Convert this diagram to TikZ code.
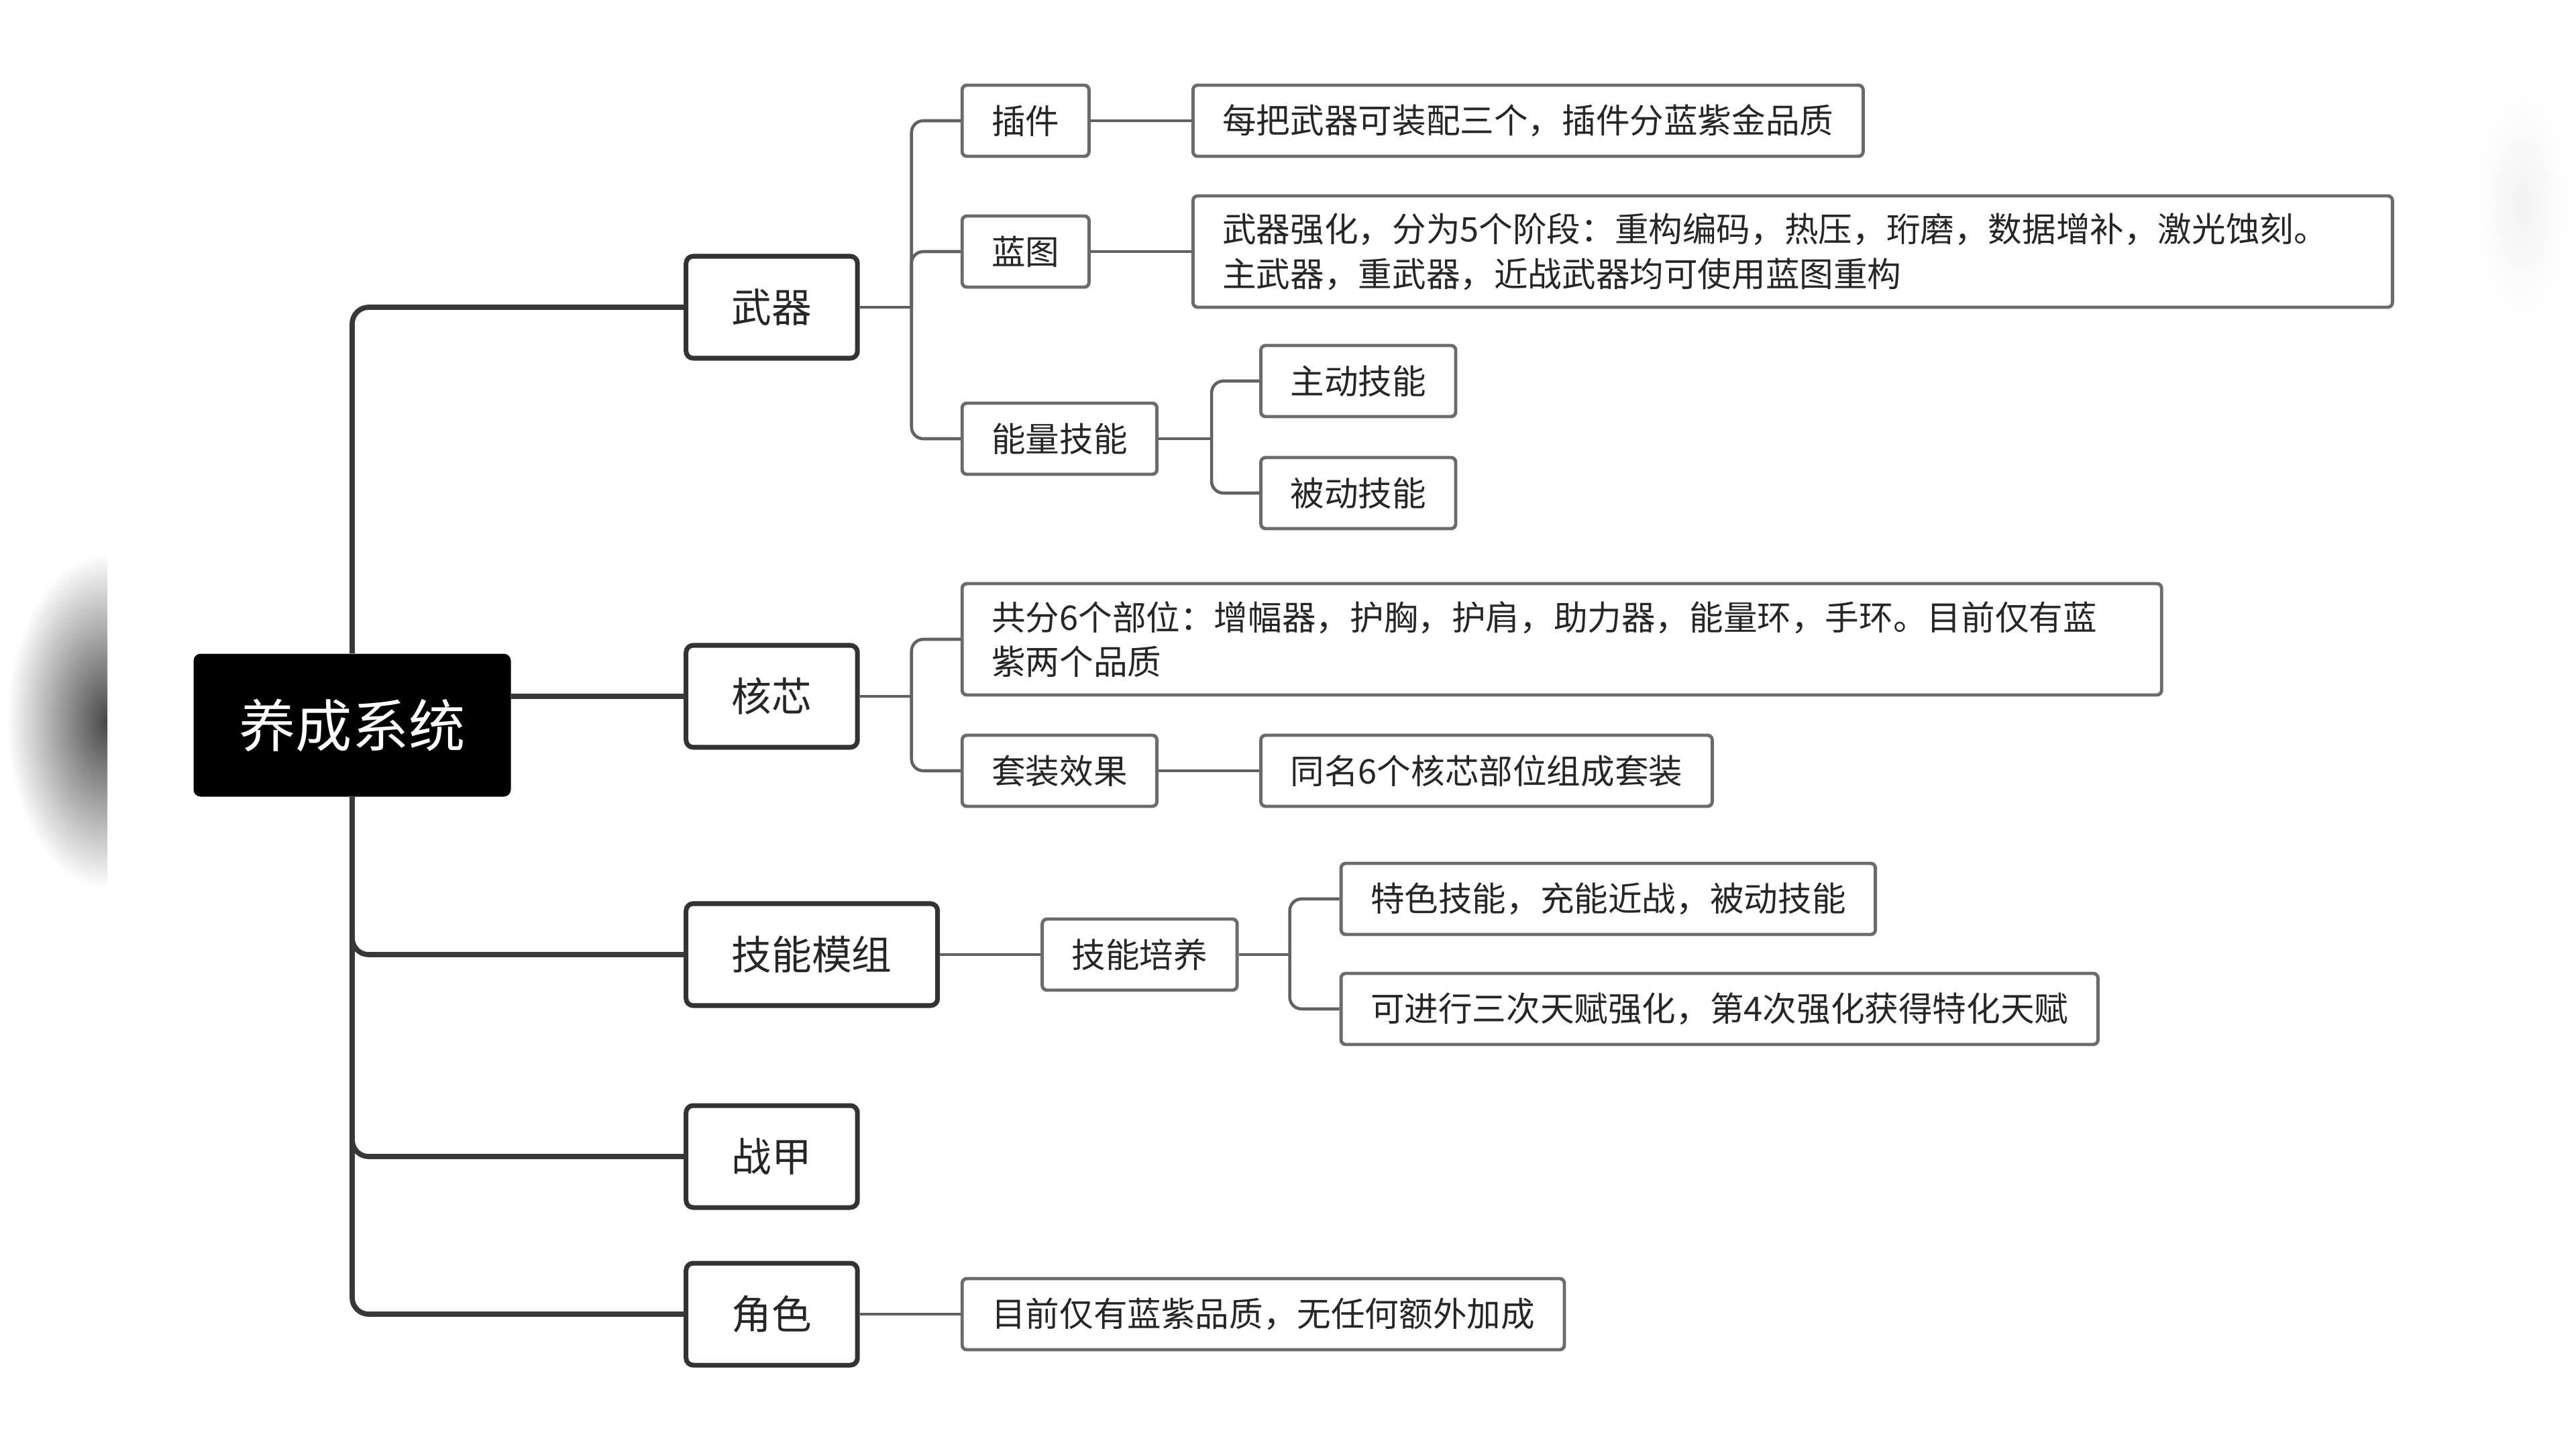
\documentclass[tikz,border=0pt]{standalone}
\usepackage{fontspec}
\setmainfont{Noto Sans CJK SC}
\usepackage{tikz}
\usetikzlibrary{positioning}
\tikzset{trunk/.style={draw, line width=2.2pt, black!78, rounded corners=7pt}}
\tikzset{twig/.style={draw, line width=1.3pt, black!62, rounded corners=5pt}}

\begin{document}
\begin{tikzpicture}[node distance = 1.5cm, auto]
\tikzstyle{root} = [rectangle, rounded corners=3pt, fill=black, text=white, minimum width=4.73cm, minimum height=2.13cm, font=\fontsize{24}{28}\selectfont]
\tikzstyle{major} = [rectangle, rounded corners=3pt, draw=black!80, line width=2pt, fill=white, inner xsep=0.68cm, minimum height=1.52cm, font=\fontsize{17}{20}\selectfont, text=black!85]
\tikzstyle{minor} = [rectangle, rounded corners=2pt, draw=black!58, line width=1.4pt, fill=white, inner xsep=0.44cm, minimum height=1.06cm, font=\fontsize{14.4}{19}\selectfont, text=black!85]
\tikzstyle{note} = [minor, text width=17cm, align=left, minimum height=1.66cm]

\useasboundingbox (0,0) rectangle (38.4,-21.6);

% video edge shadows
\begin{scope}
\clip (0,-8.0) rectangle (1.6,-13.4);
\shade[inner color=black!72, outer color=white] (1.6,-10.75) ellipse (1.5cm and 2.5cm);
\end{scope}
\begin{scope}
\clip (36.8,-1.2) rectangle (38.4,-4.9);
\shade[inner color=black!5, outer color=white] (37.6,-3.05) ellipse (0.7cm and 1.7cm);
\end{scope}

\node [root] (system) at (5.25,-10.81) {养成系统};

\node [major, right=2.57cm of system, yshift=6.23cm] (wuqi) {武器};
\node [major, right=2.57cm of system, yshift=0.43cm] (hexin) {核芯};
\node [major, right=2.57cm of system, yshift=-3.42cm] (mozu) {技能模组};
\node [major, right=2.57cm of system, yshift=-6.43cm] (zhanjia) {战甲};
\node [major, right=2.57cm of system, yshift=-8.78cm] (juese) {角色};

% 武器
\node [minor, right=of wuqi, yshift=2.78cm] (chajian) {插件};
\node [minor, right=of wuqi, yshift=0.83cm] (lantu) {蓝图};
\node [minor, right=of wuqi, yshift=-1.96cm] (nengliang) {能量技能};
\node [minor, right=of chajian] (chajiandesc) {每把武器可装配三个，插件分蓝紫金品质};
\node [note, right=of lantu] (lantudesc) {武器强化，分为5个阶段：重构编码，热压，珩磨，数据增补，激光蚀刻。\\主武器，重武器，近战武器均可使用蓝图重构};
\node [minor, right=of nengliang, yshift=0.86cm] (zhudong) {主动技能};
\node [minor, right=of nengliang, yshift=-0.81cm] (beidong) {被动技能};

% 核芯
\node [note, right=of hexin, yshift=0.85cm] (buwei) {共分6个部位：增幅器，护胸，护肩，助力器，能量环，手环。目前仅有蓝\\紫两个品质};
\node [minor, right=of hexin, yshift=-1.11cm] (taozhuang) {套装效果};
\node [minor, right=of taozhuang] (taozhuangdesc) {同名6个核芯部位组成套装};

% 技能模组
\node [minor, right=of mozu] (peiyang) {技能培养};
\node [minor, right=of peiyang, yshift=0.83cm] (tese) {特色技能，充能近战，被动技能};
\node [minor, right=of peiyang, yshift=-0.81cm] (tianfu) {可进行三次天赋强化，第4次强化获得特化天赋};

% 角色
\node [minor, right=of juese] (juesedesc) {目前仅有蓝紫品质，无任何额外加成};

% main branches
\path [trunk] (system.north) |- (wuqi.west);
\path [trunk] (system.east |- hexin) -- (hexin.west);
\path [trunk] (system.south) |- (mozu.west);
\path [trunk] (system.south) |- (zhanjia.west);
\path [trunk] (system.south) |- (juese.west);

% sub branches
\coordinate (wuqiB) at ([xshift=0.77cm]wuqi.east);
\path [twig] (wuqi.east) -- (wuqiB);
\path [twig] (wuqiB) |- (chajian.west);
\path [twig] (wuqiB) |- (lantu.west);
\path [twig] (wuqiB) |- (nengliang.west);
\path [twig] (chajian.east) -- (chajiandesc.west);
\path [twig] (lantu.east) -- (lantudesc.west);

\coordinate (nengliangB) at ([xshift=0.79cm]nengliang.east);
\path [twig] (nengliang.east) -- (nengliangB);
\path [twig] (nengliangB) |- (zhudong.west);
\path [twig] (nengliangB) |- (beidong.west);

\coordinate (hexinB) at ([xshift=0.77cm]hexin.east);
\path [twig] (hexin.east) -- (hexinB);
\path [twig] (hexinB) |- (buwei.west);
\path [twig] (hexinB) |- (taozhuang.west);
\path [twig] (taozhuang.east) -- (taozhuangdesc.west);

\path [twig] (mozu.east) -- (peiyang.west);
\coordinate (peiyangB) at ([xshift=0.76cm]peiyang.east);
\path [twig] (peiyang.east) -- (peiyangB);
\path [twig] (peiyangB) |- (tese.west);
\path [twig] (peiyangB) |- (tianfu.west);

\path [twig] (juese.east) -- (juesedesc.west);

\end{tikzpicture}
\end{document}
